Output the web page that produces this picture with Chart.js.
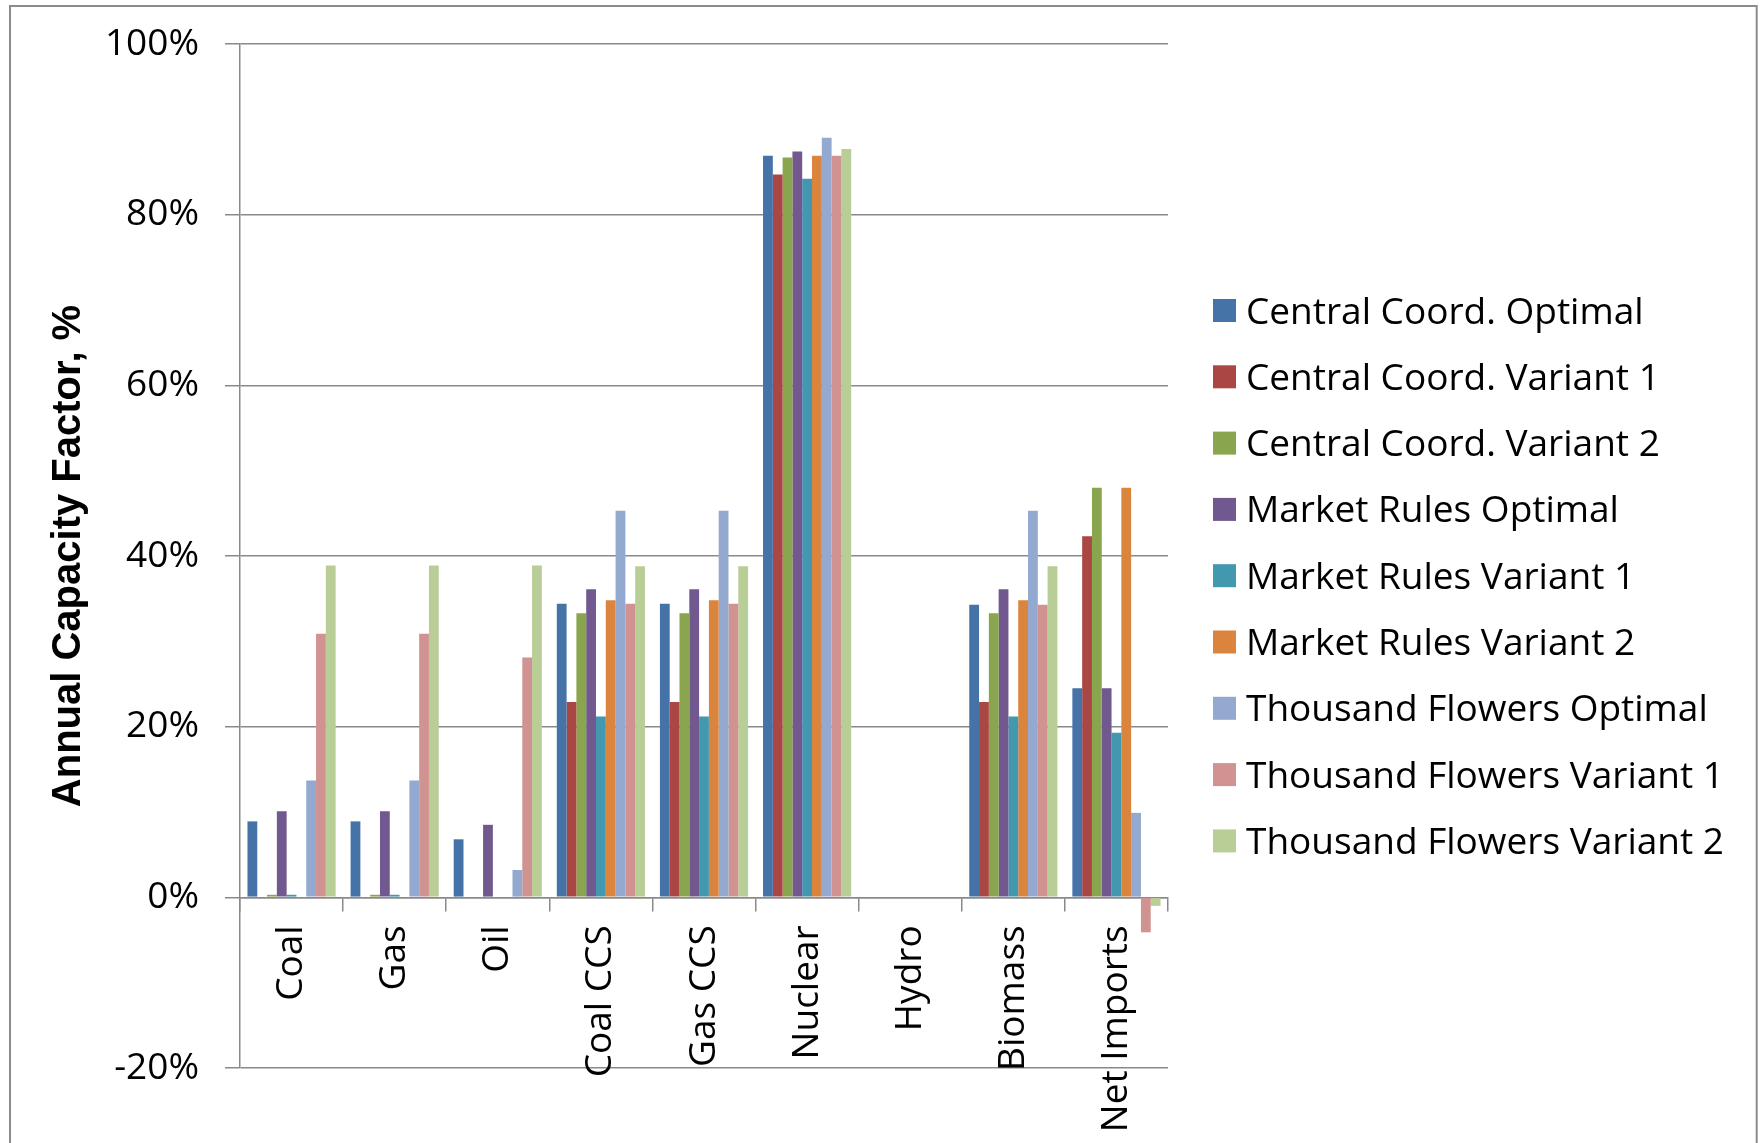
<!DOCTYPE html>
<html>
<head>
<meta charset="utf-8">
<script src="https://cdn.jsdelivr.net/npm/chart.js@4.4.0/dist/chart.umd.min.js"></script>
<style>
  html, body { margin: 0; padding: 0; background: #ffffff; overflow: hidden; }
  #wrap { position: absolute; left: 0; top: 0; width: 1761px; height: 1143px; }
</style>
</head>
<body>
<div id="wrap"><canvas id="c" width="1761" height="1143"></canvas></div>
<script>
// ---------------- DATA ----------------
const categories = ['Coal', 'Gas', 'Oil', 'Coal CCS', 'Gas CCS', 'Nuclear', 'Hydro', 'Biomass', 'Net Imports'];

const seriesNames = [
  'Central Coord. Optimal',
  'Central Coord. Variant 1',
  'Central Coord. Variant 2',
  'Market Rules Optimal',
  'Market Rules Variant 1',
  'Market Rules Variant 2',
  'Thousand Flowers Optimal',
  'Thousand Flowers Variant 1',
  'Thousand Flowers Variant 2'
];

const centralCoordOptimal  = [8.9, 8.9, 6.8, 34.4, 34.4, 86.9, 0, 34.3, 24.5];
const centralCoordVariant1 = [0, 0, 0, 22.9, 22.9, 84.7, 0, 22.9, 42.3];
const centralCoordVariant2 = [0.3, 0.3, 0, 33.3, 33.3, 86.7, 0, 33.3, 48.0];
const marketRulesOptimal   = [10.1, 10.1, 8.5, 36.1, 36.1, 87.4, 0, 36.1, 24.5];
const marketRulesVariant1  = [0.3, 0.3, 0, 21.2, 21.2, 84.2, 0, 21.2, 19.3];
const marketRulesVariant2  = [0, 0, 0, 34.8, 34.8, 86.9, 0, 34.8, 48.0];
const thousandFlowersOptimal  = [13.7, 13.7, 3.2, 45.3, 45.3, 89.0, 0, 45.3, 9.9];
const thousandFlowersVariant1 = [30.9, 30.9, 28.1, 34.4, 34.4, 86.9, 0, 34.3, -4.1];
const thousandFlowersVariant2 = [38.9, 38.9, 38.9, 38.8, 38.8, 87.7, 0, 38.8, -1.0];

const yTickValues = [-20, 0, 20, 40, 60, 80, 100];
const yTitle = 'Annual Capacity Factor, %';

// ---------------- STYLE ----------------
const seriesValues = [
  centralCoordOptimal, centralCoordVariant1, centralCoordVariant2,
  marketRulesOptimal, marketRulesVariant1, marketRulesVariant2,
  thousandFlowersOptimal, thousandFlowersVariant1, thousandFlowersVariant2
];
const seriesColors = ['#4572A7', '#AA4643', '#89A54E', '#71588F', '#4198AF', '#DB843D', '#93A9CF', '#D19392', '#B9CD96'];
const GRID = '#8a8a8a';

const datasets = seriesNames.map((name, i) => ({
  label: name,
  data: seriesValues[i],
  backgroundColor: seriesColors[i],
  borderWidth: 0
}));

const framePlugin = {
  id: 'frame',
  beforeDraw(chart) {
    const ctx = chart.ctx;
    ctx.save();
    ctx.fillStyle = '#ffffff';
    ctx.fillRect(0, 0, chart.width, chart.height);
    ctx.strokeStyle = '#8c8c8c';
    ctx.lineWidth = 2;
    ctx.strokeRect(10, 6, 1746.7, 1300);
    ctx.restore();
  }
};

const legendPlugin = {
  id: 'sideLegend',
  afterDraw(chart) {
    const ctx = chart.ctx;
    ctx.save();
    ctx.font = '37px "Open Sans"';
    ctx.textAlign = 'left';
    ctx.textBaseline = 'alphabetic';
    chart.data.datasets.forEach((ds, i) => {
      const cy = 310.5 + i * 66.3;
      ctx.fillStyle = ds.backgroundColor;
      ctx.fillRect(1213, cy - 11.5, 23, 23);
      ctx.fillStyle = '#000000';
      ctx.fillText(ds.label, 1246, cy + 13);
    });
    ctx.restore();
  }
};

function build() {
  new Chart(document.getElementById('c'), {
    type: 'bar',
    data: { labels: categories, datasets },
    plugins: [framePlugin, legendPlugin],
    options: {
      responsive: false,
      animation: false,
      devicePixelRatio: 1,
      layout: { padding: { left: 45, top: 44, right: 593, bottom: 75 } },
      plugins: { legend: { display: false }, tooltip: { enabled: false } },
      datasets: { bar: { barPercentage: 1.0, categoryPercentage: 0.855 } },
      scales: {
        x: {
          type: 'category',
          position: { y: 0 },
          offset: true,
          grid: { display: true, drawOnChartArea: false, drawTicks: true, tickLength: 13, color: GRID, lineWidth: 1.5, offset: true },
          border: { display: true, color: GRID, width: 1.5 },
          ticks: { autoSkip: false, minRotation: 90, maxRotation: 90, padding: 15, color: '#000000',
                   font: { family: 'Open Sans', size: 37 } },
          afterFit(s) { s.paddingLeft = 0; s.paddingRight = 0; s.paddingTop = 0; s.paddingBottom = 0; }
        },
        y: {
          type: 'linear',
          min: -20,
          max: 100,
          afterBuildTicks(s) { s.ticks = yTickValues.map(v => ({ value: v })); },
          ticks: { callback: v => v + '%', padding: 26, color: '#000000',
                   font: { family: 'Open Sans', size: 37 } },
          grid: { color: GRID, lineWidth: 1.5, drawTicks: true, tickLength: 15 },
          border: { display: true, color: GRID, width: 1.5 },
          title: { display: true, text: yTitle, color: '#000000', padding: { top: 0, bottom: 0 },
                   font: { family: 'Liberation Sans', size: 40, weight: 'bold' } },
          afterFit(s) { s.width = 195; s.paddingTop = 0; s.paddingBottom = 0; s.paddingLeft = 0; s.paddingRight = 0; }
        }
      }
    }
  });
}

const fontLoads = [
  document.fonts.load('37px "Open Sans"'),
  document.fonts.load('bold 40px "Liberation Sans"')
];
Promise.all(fontLoads).then(build, build);
</script>
</body>
</html>
